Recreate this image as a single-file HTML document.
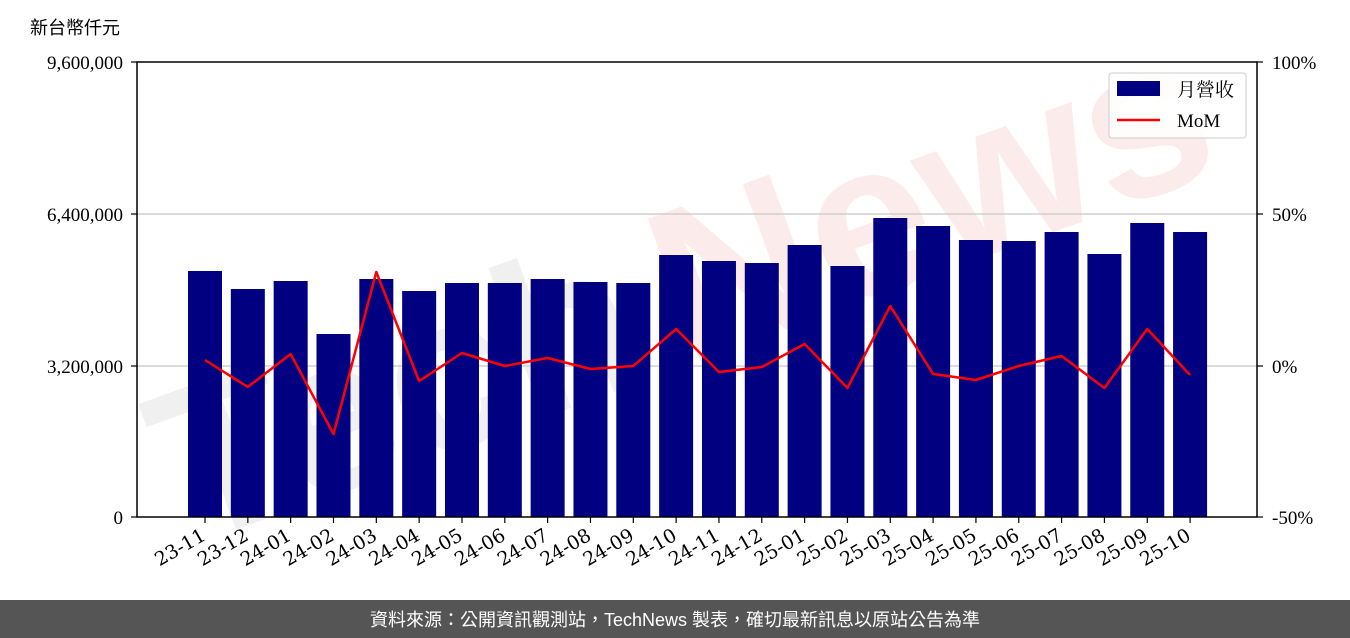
<!DOCTYPE html>
<html><head><meta charset="utf-8"><style>
html,body{margin:0;padding:0;background:#fff;}
svg{display:block;}
text{font-family:"Liberation Serif","Noto Serif CJK SC","Noto Sans CJK TC",serif;}
</style></head><body>
<svg width="1350" height="638" viewBox="0 0 1350 638" xmlns="http://www.w3.org/2000/svg">
<rect width="1350" height="638" fill="#fff"/>
<!-- watermark -->
<g transform="translate(690,290) rotate(-20)" opacity="0.09">
<text x="-560" y="70" font-size="220" font-weight="bold" fill="#666" style="font-family:'Liberation Sans',sans-serif">Tech</text>
<text x="-30" y="70" font-size="220" font-weight="bold" fill="#e03030" style="font-family:'Liberation Sans',sans-serif">News</text>
</g>
<text x="30" y="34" font-size="18" style="font-family:'Liberation Sans','Noto Sans CJK TC',sans-serif">新台幣仟元</text>
<line x1="137" y1="214" x2="1257" y2="214" stroke="#d0d0d0" stroke-width="1.5"/>
<line x1="137" y1="366" x2="1257" y2="366" stroke="#d0d0d0" stroke-width="1.5"/>
<g id="bars" fill="#000080"></g>
<polyline id="mom" fill="none" stroke="#ff0000" stroke-width="2.5" stroke-linejoin="round"/>
<rect x="137" y="62" width="1120" height="455" fill="none" stroke="#000" stroke-width="1.5"/>
<g font-size="19" fill="#000">
<text x="123" y="69" text-anchor="end">9,600,000</text>
<text x="123" y="221" text-anchor="end">6,400,000</text>
<text x="123" y="373" text-anchor="end">3,200,000</text>
<text x="123" y="524" text-anchor="end">0</text>
<text x="1272" y="69">100%</text>
<text x="1272" y="221">50%</text>
<text x="1272" y="373">0%</text>
<text x="1272" y="524">-50%</text>
</g>
<g stroke="#000" stroke-width="1.2">
<line x1="131" y1="62" x2="137" y2="62"/><line x1="131" y1="214" x2="137" y2="214"/>
<line x1="131" y1="366" x2="137" y2="366"/><line x1="131" y1="517" x2="137" y2="517"/>
<line x1="1257" y1="62" x2="1263" y2="62"/><line x1="1257" y1="214" x2="1263" y2="214"/>
<line x1="1257" y1="366" x2="1263" y2="366"/><line x1="1257" y1="517" x2="1263" y2="517"/>
</g>
<g id="xt"></g>
<rect x="1109" y="73" width="137" height="65" fill="#fff" fill-opacity="0.85" stroke="#ccc" rx="3"/>
<rect x="1117" y="81" width="43" height="15" fill="#000080"/>
<text x="1177" y="96" font-size="19">月營收</text>
<line x1="1117" y1="120" x2="1160" y2="120" stroke="#ff0000" stroke-width="2.5"/>
<text x="1177" y="127" font-size="19">MoM</text>
<rect x="0" y="600" width="1350" height="38" fill="#555"/>
<text x="675" y="626" text-anchor="middle" font-size="18" fill="#fff" style="font-family:'Liberation Sans','Noto Sans CJK TC',sans-serif">資料來源：公開資訊觀測站，TechNews 製表，確切最新訊息以原站公告為準</text>
</svg>
<script>
var tops=[271,289,281,334,279,291,283,283,279,282,283,255,261,263,245,266,218,226,240,241,232,254,223,232];
var mom=[360,387,354,434,272,381,353,366,358,369,366,329,372,367,344,388,306,374,380,366,356,388,329,375];
var labels=["23-11","23-12","24-01","24-02","24-03","24-04","24-05","24-06","24-07","24-08","24-09","24-10","24-11","24-12","25-01","25-02","25-03","25-04","25-05","25-06","25-07","25-08","25-09","25-10"];
var ns="http://www.w3.org/2000/svg",b=document.getElementById("bars"),xt=document.getElementById("xt"),pts=[];
for(var i=0;i<24;i++){var cx=205+i*42.83;
var r=document.createElementNS(ns,"rect");r.setAttribute("x",cx-17);r.setAttribute("y",tops[i]);r.setAttribute("width",34);r.setAttribute("height",517-tops[i]);b.appendChild(r);
pts.push(cx+","+mom[i]);
var l=document.createElementNS(ns,"line");l.setAttribute("x1",cx);l.setAttribute("x2",cx);l.setAttribute("y1",517);l.setAttribute("y2",523);l.setAttribute("stroke","#000");l.setAttribute("stroke-width","1.2");xt.appendChild(l);
var t=document.createElementNS(ns,"text");t.setAttribute("font-size","19");t.setAttribute("style","font-family:'DejaVu Serif',serif");t.setAttribute("text-anchor","end");t.setAttribute("transform","translate("+(cx-5)+",527) rotate(-30)");t.setAttribute("y","14");t.textContent=labels[i];xt.appendChild(t);}
document.getElementById("mom").setAttribute("points",pts.join(" "));
</script>
</body></html>
